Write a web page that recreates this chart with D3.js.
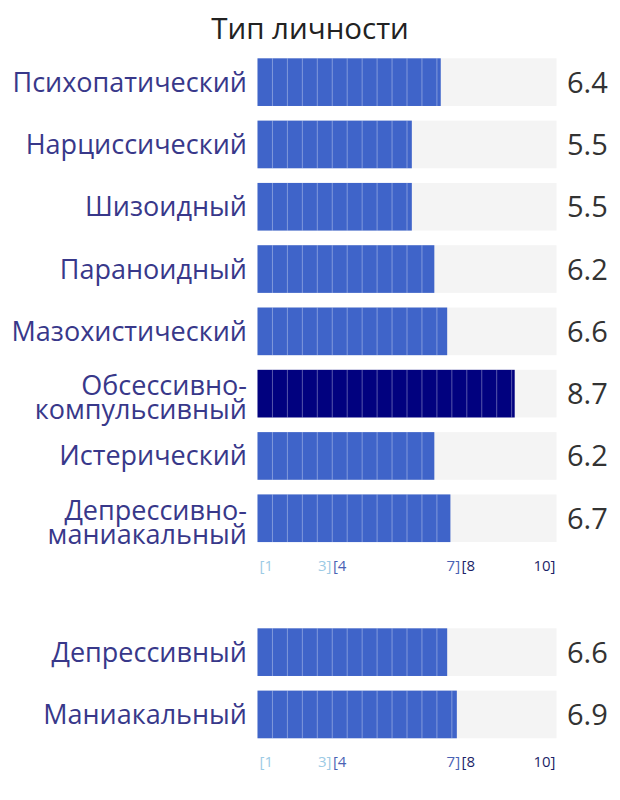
<!DOCTYPE html>
<html><head><meta charset="utf-8">
<script src="https://cdn.jsdelivr.net/npm/d3@7"></script>
<style>
html,body{margin:0;padding:0;background:#fff;}
svg{display:block;font-family:"Open Sans", "Noto Sans", sans-serif;}
</style></head>
<body>
<svg id="chart" width="620" height="800"></svg>
<script>
const title = "Тип личности";
const group1Labels = ["Психопатический","Нарциссический","Шизоидный","Параноидный","Мазохистический","Обсессивно-\nкомпульсивный","Истерический","Депрессивно-\nманиакальный"];
const group1Values = [6.4,5.5,5.5,6.2,6.6,8.7,6.2,6.7];
const group2Labels = ["Депрессивный","Маниакальный"];
const group2Values = [6.6,6.9];
const scaleDomain = [0.7,10];
const binTicks = [
  {text:"[1", v:0.7, anchor:"start", bin:0},
  {text:"3]", v:3, anchor:"end", bin:0},
  {text:"[4", v:3, anchor:"start", bin:1},
  {text:"7]", v:7, anchor:"end", bin:1},
  {text:"[8", v:7, anchor:"start", bin:2},
  {text:"10]", v:10, anchor:"end", bin:2}
];
const binEdges = [3.5, 7.5];
const binTickColors = ["#9ccbe5","#4a62b4","#1c1f68"];
const barColors = ["#8fc6e4","#3f64c9","#01017f"];

const svg = d3.select("#chart");
const x = d3.scaleLinear().domain(scaleDomain).range([257.5,556.5]);
const binOf = d3.scaleThreshold().domain(binEdges).range([0,1,2]);
const cellCount = 20;
const cellW = (x.range()[1]-x.range()[0])/cellCount;

svg.append("text").attr("x",310).attr("y",39).attr("text-anchor","middle")
  .attr("font-size",29.5).attr("fill","#222").text(title);

function drawGroup(labels, values, top, axisY){
  const y = d3.scaleBand().domain(d3.range(labels.length))
    .range([top, top + 62.3*labels.length]).paddingInner(0.235).paddingOuter(0.1175);
  const g = svg.append("g");
  const rows = g.selectAll("g.row").data(values.map((v,i)=>({v,label:labels[i],i})))
    .join("g").attr("class","row");
  rows.append("rect").attr("x",x.range()[0]).attr("y",d=>y(d.i))
    .attr("width",x.range()[1]-x.range()[0]).attr("height",y.bandwidth()).attr("fill","#f4f4f4");
  rows.append("rect").attr("x",x.range()[0]).attr("y",d=>y(d.i))
    .attr("width",d=>x(d.v)-x.range()[0]).attr("height",y.bandwidth())
    .attr("fill",d=>barColors[binOf(d.v)]);
  rows.each(function(d){
    const r = d3.select(this);
    const end = x(d.v);
    const lines = d3.range(1,cellCount).map(k=>x.range()[0]+k*cellW).filter(p=>p<end-1);
    r.selectAll("line.sep").data(lines).join("line").attr("class","sep")
      .attr("x1",p=>p).attr("x2",p=>p).attr("y1",y(d.i)).attr("y2",y(d.i)+y.bandwidth())
      .attr("stroke","#fff").attr("stroke-opacity",0.35).attr("stroke-width",1);
  });
  rows.append("text").attr("x",567).attr("y",d=>y(d.i)+y.bandwidth()/2+10.5)
    .attr("font-size",29).attr("fill","#333").text(d=>d3.format(".1f")(d.v));
  rows.each(function(d){
    const parts = d.label.split("\n");
    const cy = y(d.i)+y.bandwidth()/2;
    const lh = 24;
    const off = parts.length > 1 ? 13.5 : 9.5;
    parts.forEach((p,j)=>{
      d3.select(this).append("text").attr("text-anchor","end")
        .attr("font-size",27).attr("fill","#38388a")
        .attr("x",247)
        .attr("y", cy + off + (j - (parts.length-1)/2)*lh).text(p);
    });
  });
  const ax = svg.append("g");
  ax.selectAll("text").data(binTicks).join("text")
    .attr("x",d=> d.anchor==="start" ? x(d.v)+ (d.v===scaleDomain[0]?2:1.5) : x(d.v)-(d.v===scaleDomain[1]?1:0))
    .attr("y",axisY).attr("text-anchor",d=>d.anchor)
    .attr("font-size",15).attr("fill",d=>binTickColors[d.bin]).text(d=>d.text);
}
drawGroup(group1Labels, group1Values, 51, 571);
drawGroup(group2Labels, group2Values, 621, 767);
</script>
</body></html>
